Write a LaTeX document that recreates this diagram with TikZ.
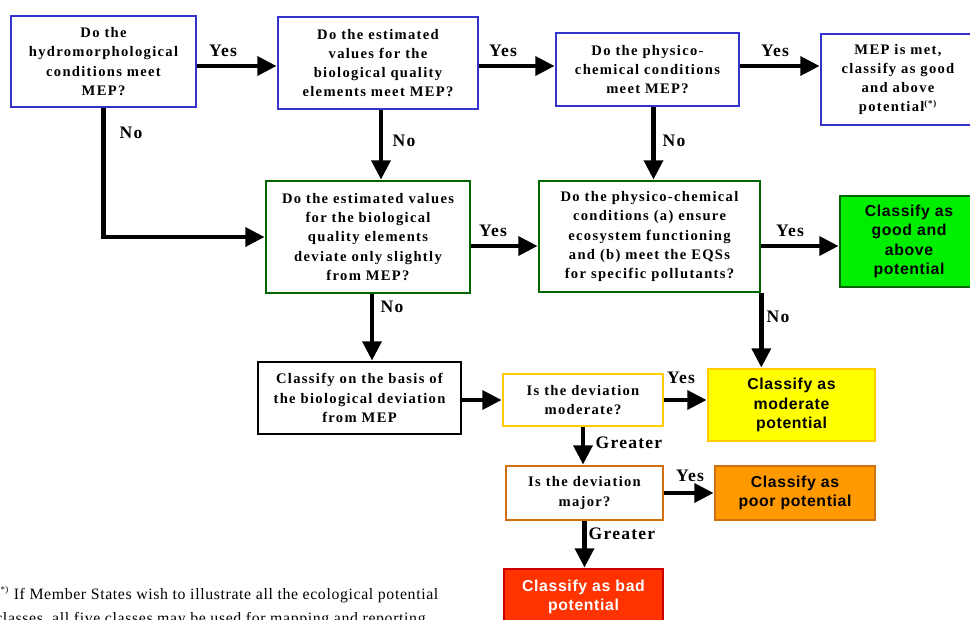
\documentclass[tikz,border=0pt]{standalone}
\usepackage{fontspec}
\setmainfont{Liberation Serif}
\newfontfamily\qfont[LetterSpace=9]{Liberation Serif}
\newfontfamily\lblfont[LetterSpace=7]{Liberation Serif}
\newfontfamily\sfbox[LetterSpace=4]{Liberation Sans}
\newfontfamily\footfont[LetterSpace=4]{Liberation Serif}
\usetikzlibrary{arrows.meta,calc}
\newdimen\pxu \pxu=0.02cm
\definecolor{qblue}{HTML}{3333CC}
\definecolor{qgreen}{HTML}{006600}
\definecolor{goodfill}{HTML}{00EE00}
\definecolor{qyellow}{HTML}{FFCC00}
\definecolor{modfill}{HTML}{FFFF00}
\definecolor{qorange}{HTML}{D07010}
\definecolor{poorfill}{HTML}{FF9900}
\definecolor{badfill}{HTML}{FF3300}
\definecolor{badline}{HTML}{CC0000}
\tikzset{
  qbox/.style={draw, line width=1.5pt, fill=white, align=center, inner sep=0pt,
    font=\qfont\bfseries\fontsize{8.3}{10.9}\selectfont, text=black},
  cbox/.style={draw, line width=1.5pt, align=center, inner sep=0pt,
    font=\sfbox\bfseries\fontsize{9}{11}\selectfont, text=black},
  lbl/.style={inner sep=0pt, font=\lblfont\bfseries\fontsize{10}{12}\selectfont},
  foot/.style={inner sep=0pt, font=\footfont\fontsize{9}{11}\selectfont},
  arr/.style={line width=2.8pt, -{Triangle[length=11pt,width=10.5pt]}},
}
\begin{document}
\begin{tikzpicture}[x=0.02cm,y=-0.02cm]
\useasboundingbox (0,0) rectangle (970,619);
\clip (0,0) rectangle (970,619);
\fill[white] (0,0) rectangle (970,619);

% row 1
\node[qbox, draw=qblue, minimum width=185\pxu, minimum height=91\pxu] (hydro) at (103.5,61.5)
  {Do the\\hydromorphological\\conditions meet\\MEP?};
\node[qbox, draw=qblue, minimum width=200\pxu, minimum height=92\pxu] (est) at (378,63)
  {Do the estimated\\values for the\\biological quality\\elements meet MEP?};
\node[qbox, draw=qblue, minimum width=183\pxu, minimum height=73\pxu] (phys) at (647.5,69.5)
  {Do the physico-\\chemical conditions\\meet MEP?};
\node[qbox, draw=qblue, minimum width=154\pxu, minimum height=91\pxu] (met) at (898,79.5)
  {MEP is met,\\classify as good\\and above\\potential\textsuperscript{\tiny(*)}};

% row 2
\node[qbox, draw=qgreen, minimum width=204\pxu, minimum height=112\pxu] (dev) at (368,237)
  {Do the estimated values\\for the biological\\quality elements\\deviate only slightly\\from MEP?};
\node[qbox, draw=qgreen, minimum width=221\pxu, minimum height=111\pxu] (phys2) at (649.5,236.5)
  {Do the physico-chemical\\conditions (a) ensure\\ecosystem functioning\\and (b) meet the EQSs\\for specific pollutants?};
\node[cbox, draw=qgreen, fill=goodfill, minimum width=138\pxu, minimum height=91\pxu] (good) at (909,241.5)
  {Classify as\\good and\\above\\potential};

% row 3+
\node[qbox, draw=black, minimum width=203\pxu, minimum height=72\pxu] (basis) at (359.5,398)
  {Classify on the basis of\\the biological deviation\\from MEP};
\node[qbox, draw=qyellow, minimum width=160\pxu, minimum height=52\pxu] (modq) at (583,400)
  {Is the deviation\\moderate?};
\node[cbox, draw=qyellow, fill=modfill, minimum width=167\pxu, minimum height=72\pxu] (moderate) at (791.5,405)
  {Classify as\\moderate\\potential};
\node[qbox, draw=qorange, minimum width=157\pxu, minimum height=54\pxu] (majorq) at (584.5,493)
  {Is the deviation\\major?};
\node[cbox, draw=qorange, fill=poorfill, minimum width=160\pxu, minimum height=54\pxu] (poor) at (795,493)
  {Classify as\\poor potential};
\node[cbox, draw=badline, fill=badfill, text=white, minimum width=159\pxu, minimum height=56\pxu] (bad) at (583.5,597)
  {Classify as bad\\potential};

% helper coordinates
\coordinate (h1) at ($(hydro.east)+(0,4.5)$);
\coordinate (e1) at ($(est.east)+(0,3)$);
\coordinate (p1) at ($(phys.east)+(0,-3.5)$);
\coordinate (e2) at ($(est.south)+(3,0)$);
\coordinate (p2) at ($(phys.south)+(6,0)$);
\coordinate (d1) at ($(dev.east)+(0,9)$);
\coordinate (q1) at ($(phys2.east)+(0,9.5)$);
\coordinate (d2) at ($(dev.south)+(4,0)$);

% connectors
\draw[arr] (h1) -- (h1 -| est.west);
\draw[arr] (e1) -- (e1 -| phys.west);
\draw[arr] (p1) -- (p1 -| met.west);
\draw[arr] (hydro.south) |- (dev.west);
\draw[arr] (e2) -- (e2 |- dev.north);
\draw[arr] (p2) -- (p2 |- phys2.north);
\draw[arr] (d1) -- (d1 -| phys2.west);
\draw[arr] (q1) -- (q1 -| good.west);
\draw[arr] (phys2.south east) -- (phys2.south east |- moderate.north);
\draw[arr] (d2) -- (d2 |- basis.north);
\draw[arr] (basis.east |- modq.west) -- (modq.west);
\draw[arr] (modq.east) -- (modq.east -| moderate.west);
\draw[arr] (modq.south) -- (modq.south |- majorq.north);
\draw[arr] (majorq.east) -- (majorq.east -| poor.west);
\draw[arr] (majorq.south) -- (majorq.south |- bad.north);

% labels
\node[lbl] (l1) at (223,51) {Yes};
\node[lbl] (l2) at (503,51) {Yes};
\node[lbl] (l3) at (775,51) {Yes};
\node[lbl] (l4) at (131,133) {No};
\node[lbl] (l5) at (404,141) {No};
\node[lbl] (l6) at (674,141) {No};
\node[lbl] (l7) at (493,231) {Yes};
\node[lbl] (l8) at (790,231) {Yes};
\node[lbl] (l9) at (778,317) {No};
\node[lbl] (l10) at (392,307) {No};
\node[lbl] (l11) at (681,378) {Yes};
\node[lbl] (l12) at (629,443) {Greater};
\node[lbl] (l13) at (690,476) {Yes};
\node[lbl] (l14) at (622,534) {Greater};

% footnote
\node[foot, anchor=base west] (fn1) at (-3,599) {\textsuperscript{\tiny(*)} If Member States wish to illustrate all the ecological potential};
\node[foot, anchor=base west] (fn2) at (-5,623) {classes, all five classes may be used for mapping and reporting.};
\end{tikzpicture}
\end{document}
